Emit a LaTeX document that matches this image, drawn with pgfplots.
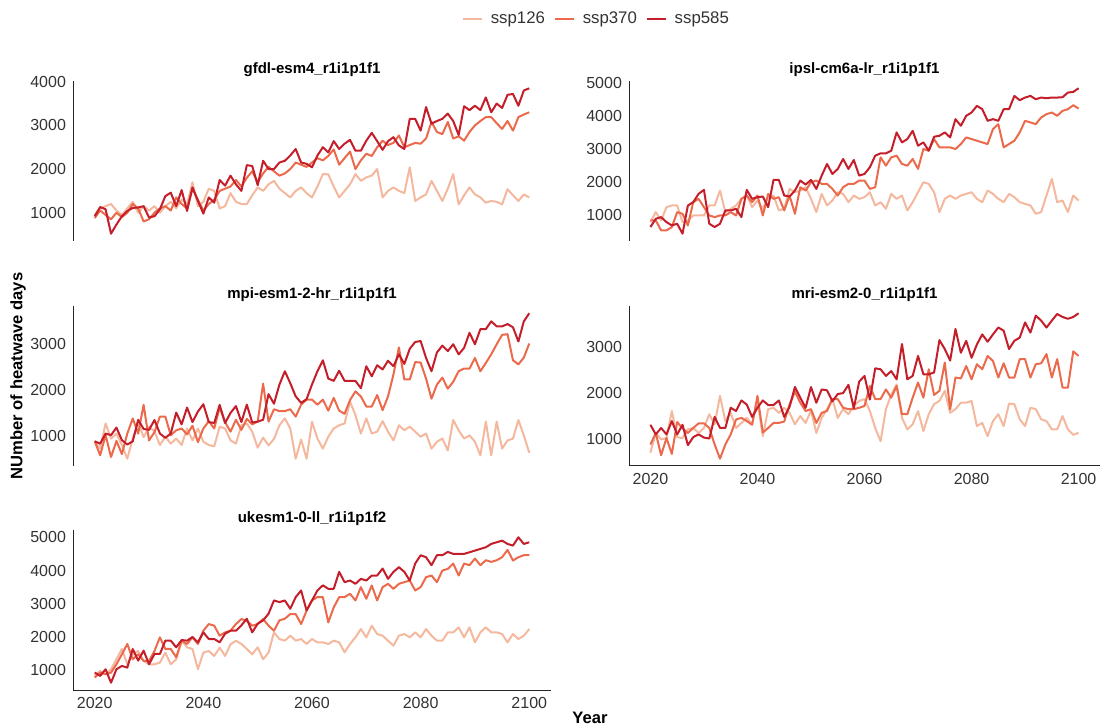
\documentclass[border=0pt]{standalone}
\usepackage{pgfplots}
\pgfplotsset{compat=1.18}
\usepackage{pgfplotstable}
\usepackage{fontspec}
\setmainfont{Liberation Sans}

\definecolor{sA}{HTML}{F4B89E}
\definecolor{sB}{HTML}{EC6A4C}
\definecolor{sC}{HTML}{C41E2A}
\definecolor{txt}{HTML}{333333}

% columns: year, ssp126 (a), ssp370 (b), ssp585 (c)
\pgfplotstableread{
year a b c
2020 950 880 920
2021 1100 1050 1130
2022 1150 950 1080
2023 1200 850 520
2024 1050 1000 730
2025 950 900 920
2026 1100 1000 1040
2027 1250 1200 1110
2028 1000 1100 1120
2029 1150 800 1150
2030 1050 850 890
2031 1150 1000 920
2032 1000 1100 1080
2033 1150 1150 1380
2034 1250 1050 1460
2035 1100 1350 1150
2036 1300 1200 1520
2037 1200 1100 1040
2038 1700 1550 1580
2039 1150 1300 1270
2040 1250 1050 980
2041 1550 1200 1350
2042 1500 1300 1230
2043 1100 1500 1750
2044 1150 1550 1620
2045 1450 1600 1850
2046 1250 1750 1650
2047 1200 1600 1500
2048 1200 1800 2090
2049 1400 1950 2070
2050 1580 1700 1630
2051 1500 1900 2190
2052 1650 2050 2000
2053 1730 1950 2000
2054 1550 1850 2150
2055 1450 1900 2190
2056 1350 2000 2310
2057 1500 2150 2460
2058 1580 2100 2150
2059 1450 2050 2120
2060 1350 2150 2040
2061 1600 2250 2310
2062 1885 2200 2500
2063 1880 2300 2380
2064 1600 2450 2640
2065 1350 2100 2460
2066 1500 2250 2580
2067 1650 2400 2670
2068 1885 2000 2420
2069 1730 2200 2420
2070 1810 2350 2650
2071 1850 2300 2830
2072 2000 2500 2640
2073 1350 2650 2440
2074 1500 2550 2640
2075 1580 2600 2730
2076 1500 2770 2540
2077 1450 2500 2460
2078 2040 2550 3150
2079 1270 2600 3150
2080 1350 2580 2880
2081 1420 2700 3420
2082 1730 3080 3040
2083 1500 2850 3100
2084 1270 2800 3150
2085 1550 3080 3270
2086 1885 2700 3100
2087 1190 2750 2780
2088 1400 2650 3440
2089 1580 2850 3350
2090 1420 3000 3450
2091 1350 3100 3350
2092 1230 3190 3640
2093 1270 3190 3300
2094 1250 3050 3500
2095 1190 2920 3400
2096 1540 3100 3700
2097 1400 2880 3720
2098 1270 3190 3450
2099 1420 3250 3800
2100 1350 3300 3850
}\gfdl

\pgfplotstableread{
year a b c
2020 800 850 650
2021 1100 850 900
2022 850 550 950
2023 1250 550 800
2024 1300 650 700
2025 1300 1100 750
2026 800 1050 450
2027 850 700 1300
2028 1000 1400 1400
2029 1000 1500 1650
2030 1000 1250 1770
2031 1300 1000 750
2032 1300 950 650
2033 1750 1000 750
2034 1100 1000 1150
2035 1200 1100 1150
2036 1300 1000 1200
2037 1500 1500 950
2038 1600 1600 1770
2039 1250 1400 1500
2040 1450 1600 1550
2041 1200 1000 1570
2042 1550 1650 1250
2043 1600 1500 2070
2044 1150 1550 2070
2045 1200 1150 1600
2046 1800 1600 1570
2047 1700 1050 1750
2048 1750 1850 2050
2049 1850 1750 1930
2050 1500 2000 2070
2051 1100 2050 1800
2052 1650 1950 2200
2053 1300 1950 2550
2054 1450 1800 2250
2055 1700 1600 2400
2056 1650 1850 2700
2057 1400 1950 2400
2058 1600 1950 2670
2059 1500 2050 2200
2060 1550 2050 2250
2061 1700 1800 2450
2062 1300 1850 2800
2063 1400 2750 2870
2064 1200 2500 2870
2065 1650 2750 2950
2066 1500 2800 3500
2067 1600 2550 3200
2068 1150 2500 3300
2069 1400 2700 3550
2070 1700 2400 3100
2071 2000 3000 3200
2072 1950 2950 2950
2073 1700 3300 3370
2074 1100 3050 3400
2075 1500 3050 3500
2076 1600 3050 3350
2077 1500 3000 3900
2078 1600 3150 3700
2079 1650 3350 4000
2080 1700 3300 4100
2081 1500 3250 4300
2082 1400 3200 4200
2083 1750 3150 3850
2084 1650 3600 3900
2085 1500 3750 3850
2086 1400 3050 4200
2087 1650 3150 4200
2088 1550 3250 4600
2089 1400 3500 4470
2090 1350 3850 4550
2091 1300 3800 4600
2092 1050 3750 4500
2093 1100 3950 4550
2094 1600 4050 4530
2095 2100 4100 4550
2096 1400 4000 4550
2097 1450 4150 4560
2098 1100 4200 4700
2099 1600 4320 4720
2100 1450 4220 4830
}\ipsl

\pgfplotstableread{
year a b c
2020 880 880 880
2021 720 575 830
2022 1270 1015 1050
2023 940 537 1015
2024 1050 890 1180
2025 800 600 905
2026 500 1050 810
2027 940 1380 880
2028 1300 1050 1350
2029 970 1676 1150
2030 1200 900 1130
2031 1090 1080 1345
2032 800 1420 1050
2033 980 1420 955
2034 830 1010 1050
2035 940 1120 1507
2036 800 1160 1250
2037 1160 1030 1617
2038 900 1220 1300
2039 1160 860 1530
2040 870 1160 1690
2041 800 1320 1300
2042 770 1160 1280
2043 1200 1617 1676
2044 1160 1300 1280
2045 900 1090 1500
2046 830 1350 1650
2047 1230 1130 1300
2048 1270 1370 1680
2049 1090 1250 1290
2050 740 1310 1310
2051 960 2140 1350
2052 790 1310 1910
2053 930 1580 1700
2054 1230 1540 2117
2055 1380 1540 2410
2056 1160 1580 2150
2057 500 1420 1860
2058 920 1680 1720
2059 500 1790 1800
2060 1310 1790 2120
2061 940 1680 2410
2062 720 1790 2650
2063 980 1550 2250
2064 1160 1830 2200
2065 1230 1550 2420
2066 1270 1480 2200
2067 1750 1780 2200
2068 1450 1970 2200
2069 1050 1860 2040
2070 1380 1640 2520
2071 1050 1640 2300
2072 1090 1890 2540
2073 1320 1560 2450
2074 1090 1860 2640
2075 900 2340 2520
2076 1230 2930 2780
2077 1120 2230 2570
2078 1200 2230 2900
2079 1090 2610 3050
2080 980 2600 3070
2081 1050 2250 2700
2082 720 1810 2410
2083 870 2120 2820
2084 940 2270 2970
2085 680 2030 2850
2086 1345 2180 3000
2087 1120 2410 2780
2088 940 2470 2920
2089 1010 2470 3250
2090 870 2700 3000
2091 575 2410 3330
2092 1310 2590 3330
2093 575 2780 3500
2094 1310 3000 3390
2095 720 3205 3390
2096 900 3220 3440
2097 940 2650 3370
2098 1345 2560 3060
2099 1010 2710 3500
2100 630 3015 3676
}\mpi

\pgfplotstableread{
year a b c
2020 690 870 1300
2021 1120 1120 1090
2022 980 635 1230
2023 1010 1010 1090
2024 1600 665 1380
2025 1030 1360 1090
2026 1010 1220 1300
2027 1200 1120 855
2028 1230 1230 1030
2029 1120 1330 1090
2030 1230 1330 1020
2031 1530 1230 1000
2032 1310 870 1470
2033 1930 560 1230
2034 1380 870 1230
2035 1560 1090 1670
2036 1230 1415 1600
2037 1340 1450 1830
2038 1450 1380 1740
2039 1310 1300 1470
2040 1820 1930 1670
2041 1050 1130 1830
2042 1640 1230 1730
2043 1670 1340 1730
2044 1560 1340 1830
2045 1670 1370 1470
2046 1560 1745 1690
2047 1310 2020 2124
2048 1490 1780 1890
2049 1340 1600 1670
2050 1610 1640 2124
2051 1120 1340 1780
2052 1450 1560 2070
2053 1640 1600 2050
2054 1860 1860 1810
2055 1450 1860 1970
2056 1640 1670 1990
2057 1530 1640 2170
2058 1710 1640 1660
2059 1820 1670 2240
2060 1860 1710 2365
2061 1600 2145 1850
2062 1230 1860 2530
2063 940 1860 2510
2064 1640 2070 2365
2065 1960 1890 2470
2066 2180 2145 2290
2067 1450 1530 3060
2068 1200 1530 2290
2069 1310 1890 2365
2070 1600 2220 2800
2071 1160 1890 2400
2072 1530 2510 2400
2073 1750 1950 2440
2074 1820 2040 3145
2075 2040 2657 2950
2076 1560 1635 2700
2077 1640 2330 3387
2078 1780 2310 2870
2079 1780 2580 3130
2080 1820 2290 2760
2081 1270 2620 3050
2082 1340 2510 3270
2083 1050 2800 3110
2084 1380 2690 3270
2085 1530 2330 3420
2086 1270 2640 3350
2087 1760 2330 2950
2088 1750 2330 3130
2089 1420 2730 3200
2090 1270 2730 3530
2091 1670 2330 3310
2092 1640 2620 3680
2093 1420 2640 3570
2094 1380 2840 3420
2095 1200 2330 3570
2096 1200 2730 3715
2097 1490 2110 3650
2098 1200 2110 3610
2099 1080 2900 3650
2100 1125 2800 3730
}\mri

\pgfplotstableread{
year a b c
2020 830 780 930
2021 980 930 830
2022 880 880 1030
2023 1030 930 625
2024 1330 1180 1030
2025 1640 1480 1130
2026 1180 1790 1080
2027 1480 1330 1640
2028 1580 1480 1290
2029 1280 1280 1590
2030 1180 1280 1180
2031 1180 1580 1490
2032 1230 1990 1490
2033 1530 1640 1890
2034 1180 1640 1890
2035 1330 1390 1690
2036 1890 1890 1910
2037 1690 1790 1890
2038 1640 1990 2000
2039 1030 1790 1840
2040 1530 2190 2140
2041 1580 2390 1940
2042 1430 2340 1940
2043 1680 2040 1840
2044 1430 2140 2100
2045 1780 2190 2190
2046 1890 2390 2190
2047 1790 2540 2350
2048 1640 2490 2550
2049 1480 2340 2140
2050 1690 2390 2400
2051 1330 2540 2500
2052 1530 2340 2700
2053 2140 2190 3100
2054 1940 2500 3050
2055 1890 2550 3100
2056 2040 2690 2850
2057 1890 2690 3200
2058 1940 2390 3400
2059 1790 2790 2800
2060 1940 3100 3100
2061 1840 3200 3400
2062 1840 3200 3555
2063 1790 2440 3450
2064 1890 2890 3450
2065 1840 3200 3960
2066 1540 3200 3650
2067 1790 3300 3700
2068 1990 3100 3600
2069 2240 3500 3750
2070 1990 3150 3700
2071 2340 3550 3850
2072 2090 3100 3850
2073 2040 3500 4060
2074 1890 3600 3750
2075 1740 3450 3960
2076 2040 3600 4100
2077 2090 3650 3960
2078 1990 3700 3700
2079 2140 3400 4210
2080 1990 3500 4460
2081 2240 3800 4400
2082 2040 3850 4160
2083 1890 3650 4460
2084 1890 4000 4460
2085 2140 4050 4560
2086 2140 4210 4500
2087 2290 3850 4500
2088 1990 4210 4500
2089 2290 4160 4550
2090 1840 4360 4600
2091 2140 4160 4650
2092 2290 4310 4700
2093 2140 4260 4800
2094 2140 4310 4850
2095 2090 4400 4900
2096 1840 4620 4800
2097 2090 4300 4750
2098 1940 4400 5000
2099 2040 4460 4800
2100 2240 4460 4850
}\ukesm

\pgfplotsset{
  panel/.style={
    scale only axis, height=80pt,
    xmin=2016, xmax=2104,
    xtick={2020,2040,...,2100},
    major tick length=0pt,
    tick style={draw=none},
    axis line style={line width=0.5pt, black!85, -},
    ticklabel style={font=\fontsize{8}{9}\selectfont, text=txt},
    /pgf/number format/assume math mode=true,
    /pgf/number format/1000 sep={},
    title style={font=\bfseries\fontsize{7.5}{9}\selectfont, yshift=-7.5pt},
    every axis plot/.append style={line width=1pt, line join=round, mark=none},
  },
  leftcol/.style={panel, width=239pt},
  rightcol/.style={panel, width=235.5pt},
  nox/.style={axis y line*=left, axis x line=none, xticklabels={}},
  withx/.style={axis lines*=left},
}

\newcommand{\threelines}[1]{%
  \addplot[sA] table[x=year, y=a] {#1};
  \addplot[sB] table[x=year, y=b] {#1};
  \addplot[sC] table[x=year, y=c] {#1};
}

\begin{document}
\begin{tikzpicture}
\path[use as bounding box] (0,0) rectangle (553pt,363.5pt);

\begin{axis}[leftcol, nox, at={(36.5pt,243pt)},
  title={gfdl-esm4\_r1i1p1f1},
  ymin=353, ymax=4017, ytick={1000,2000,3000,4000},
  legend columns=-1,
  legend style={at={(1.093,1.3875)}, anchor=center, draw=none, fill=none,
    inner xsep=0pt, inner ysep=0pt,
    nodes={inner sep=0pt},
    font=\fontsize{8.4}{10}\selectfont, text=txt},
  legend image code/.code={\draw[#1, line width=1.4pt] (0pt,0pt) -- (9.5pt,0pt);},
]
\threelines{\gfdl}
\legend{\hspace*{3.5pt}ssp126\hspace*{4.5pt},
        \hspace*{3.5pt}ssp370\hspace*{4.5pt},
        \hspace*{3.5pt}ssp585}
\end{axis}

\begin{axis}[rightcol, nox, at={(314.5pt,243pt)},
  title={ipsl-cm6a-lr\_r1i1p1f1},
  ymin=231, ymax=5049, ytick={1000,2000,3000,4000,5000},
]
\threelines{\ipsl}
\end{axis}

\begin{axis}[leftcol, nox, at={(36.5pt,130.5pt)},
  title={mpi-esm1-2-hr\_r1i1p1f1},
  ymin=341, ymax=3835, ytick={1000,2000,3000},
]
\threelines{\mpi}
\end{axis}

\begin{axis}[rightcol, withx, at={(314.5pt,130.5pt)},
  title={mri-esm2-0\_r1i1p1f1},
  ymin=401, ymax=3889, ytick={1000,2000,3000},
]
\threelines{\mri}
\end{axis}

\begin{axis}[leftcol, withx, at={(36.5pt,18.5pt)},
  title={ukesm1-0-ll\_r1i1p1f2},
  ymin=406, ymax=5219, ytick={1000,2000,3000,4000,5000},
]
\threelines{\ukesm}
\end{axis}

\node[rotate=90, font=\bfseries\fontsize{8.3}{10}\selectfont] at (9pt,175.5pt) {NUmber of heatwave days};
\node[font=\bfseries\fontsize{8.3}{10}\selectfont] at (295pt,4.5pt) {Year};
\end{tikzpicture}
\end{document}
